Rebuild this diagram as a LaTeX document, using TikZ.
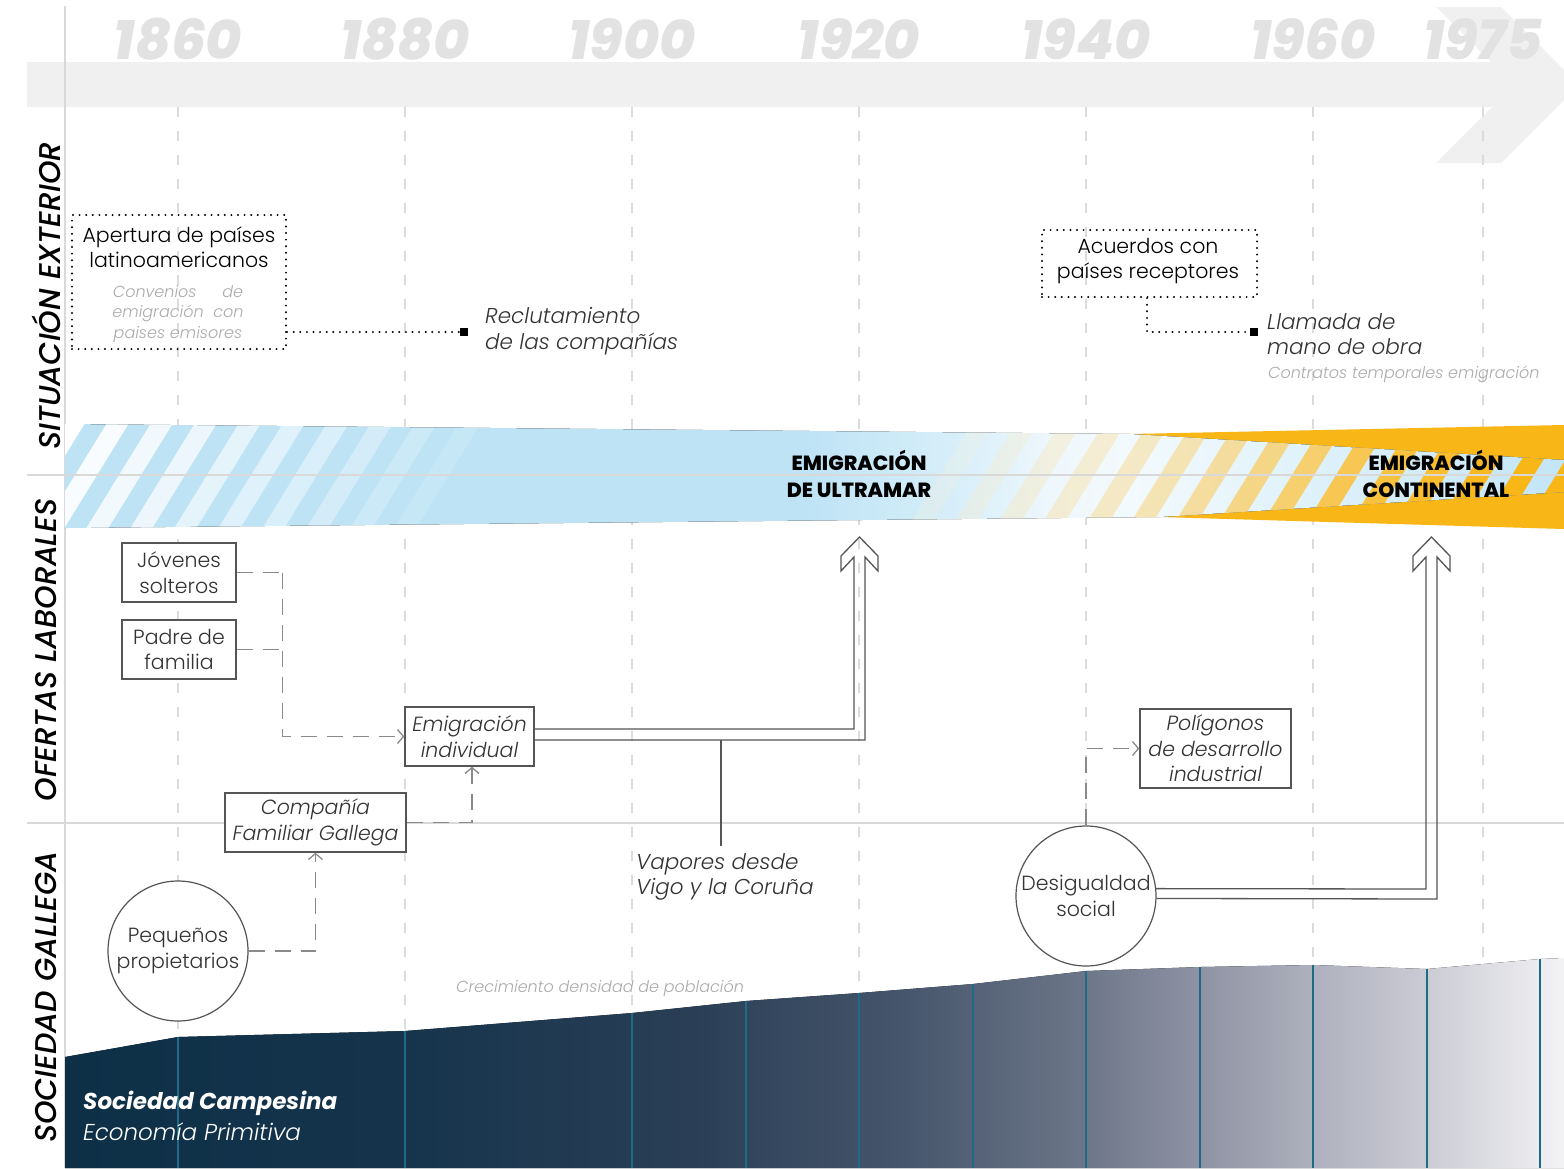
\documentclass[tikz,border=0pt]{standalone}
\usepackage{fontspec}
\setmainfont{Poppins}[UprightFont=* Light, ItalicFont=* Light Italic, BoldFont=* Bold, BoldItalicFont=* Bold Italic]
\newfontfamily\medfont{Poppins}[UprightFont=* Medium, ItalicFont=* Medium Italic]
\newfontfamily\heavyfont{Poppins}[UprightFont=* ExtraBold, ItalicFont=* ExtraBold Italic]
\usetikzlibrary{arrows.meta,calc,shapes.geometric}
\definecolor{tlgrey}{HTML}{F0F0F0}
\definecolor{yearc}{HTML}{E2E2E2}
\definecolor{gridc}{HTML}{DCDCDC}
\definecolor{rowc}{HTML}{D9D9D9}
\definecolor{bandblue}{HTML}{BDE3F5}
\definecolor{bandb2}{HTML}{D6EEF9}
\definecolor{bandb3}{HTML}{EEF7FC}
\definecolor{bandb4}{HTML}{F3FAFD}
\definecolor{innerr}{HTML}{C2E5F6}
\definecolor{orng}{HTML}{F9B617}
\definecolor{ypale}{HTML}{F8F0DA}
\definecolor{pop1}{HTML}{0D3047}
\definecolor{pop2}{HTML}{15344C}
\definecolor{pop3}{HTML}{2A3F56}
\definecolor{pop4}{HTML}{46566C}
\definecolor{pop5}{HTML}{6D7689}
\definecolor{pop6}{HTML}{8F94A4}
\definecolor{pop7}{HTML}{AEB0BD}
\definecolor{pop8}{HTML}{CACBD4}
\definecolor{pop9}{HTML}{F3F3F5}
\definecolor{tealc}{HTML}{1D6B85}
\definecolor{boxc}{HTML}{555555}
\definecolor{txtc}{HTML}{333333}
\definecolor{dashcol}{HTML}{8A8A8A}
\definecolor{lgtxt}{HTML}{ABABAB}
\pgfdeclarehorizontalshading{bluebandsh}{100bp}{color(0bp)=(bandblue); color(25bp)=(bandblue); color(49.5bp)=(bandblue); color(54.5bp)=(bandb2); color(58bp)=(bandb3); color(60.5bp)=(bandb4); color(75bp)=(innerr); color(100bp)=(innerr)}
\pgfdeclarehorizontalshading{popsh}{100bp}{color(0bp)=(pop1); color(25bp)=(pop1); color(36bp)=(pop2); color(46bp)=(pop3); color(53bp)=(pop4); color(59bp)=(pop5); color(63bp)=(pop6); color(66.6bp)=(pop7); color(70.4bp)=(pop8); color(75bp)=(pop9); color(100bp)=(pop9)}
\begin{document}
\begin{tikzpicture}[x=1pt,y=-1pt,
  yearlbl/.style={text=yearc, font=\fontsize{55}{55}\heavyfont\itshape, inner sep=0},
  gridline/.style={draw=gridc, line width=1.5, dash pattern=on 10pt off 14pt},
  rowline/.style={draw=rowc, line width=1.5},
  rowlbl/.style={rotate=90, font=\fontsize{30}{30}\medfont\itshape, text=black, inner sep=0},
  box/.style={draw=boxc, line width=1.3, fill=white, text=txtc, align=center, inner sep=0, font=\fontsize{20.5}{25.5}\selectfont},
  ibox/.style={box, font=\fontsize{20.5}{25.5}\selectfont\itshape},
  circ/.style={circle, draw=boxc, line width=1.2, fill=white, minimum size=140, inner sep=0, align=center, text=txtc, font=\fontsize{20.5}{25.5}\selectfont},
  dotbox/.style={draw=black, line width=2.2, dash pattern=on 0pt off 6.6pt, line cap=round},
  dotc/.style={draw=black, line width=2.2, dash pattern=on 0pt off 6.6pt, line cap=round},
  sq/.style={fill=black, minimum size=8, inner sep=0},
  dashc/.style={draw=dashcol, line width=1.3, dash pattern=on 16pt off 10pt},
  barb/.style={-{Straight Barb[length=6,width=14,line width=1.3]}},
  dbl/.style={draw=boxc, line width=1.3, line join=miter},
  itxt/.style={font=\fontsize{21.5}{25.5}\selectfont\itshape, text=txtc, align=left, inner sep=0},
  smalltxt/.style={font=\fontsize{16}{20.5}\selectfont\itshape, text=lgtxt, inner sep=0},
  bandlbl/.style={font=\fontsize{20.5}{26.5}\heavyfont, text=black, align=center, inner sep=0}
]
\useasboundingbox (0,0) rectangle (1564,1168);
\clip (0,0) rectangle (1564,1168);
\fill[white] (0,0) rectangle (1564,1168);

% timeline arrow
\fill[tlgrey] (27,62) rectangle (1514,107);
\fill[tlgrey] (1436,7) -- (1501,7) -- (1579,85) -- (1501,163) -- (1436,163) -- (1514,85) -- cycle;

% years
\foreach \x/\yr in {178/1860,405/1880,632/1900,859/1920,1086/1940,1313/1960,1483/1975}
  \node[yearlbl] (y\yr) at (\x,39) {\yr};

% left vertical line and grid
\draw[rowline] (65,6) -- (65,1168);
\foreach \x in {178,405,632,859,1086,1313,1483}
  \draw[gridline] (\x,107) -- (\x,1168);

% ===== migration band =====
\fill[orng] (1130,434) -- (1564,425) -- (1564,529) -- (1160,517) -- cycle;
\fill[shading=bluebandsh] (65,424) -- (1130,434) -- (1564,460) -- (1564,492) -- (1160,517) -- (65,528) -- cycle;
\begin{scope}
  \clip (65,424) -- (1130,434) -- (1564,460) -- (1564,492) -- (1160,517) -- (65,528) -- cycle;
  \foreach \k in {0,...,9}{
    \pgfmathsetmacro{\xo}{-9+44*\k}
    \pgfmathsetmacro{\op}{1-0.095*\k}
    \fill[white, opacity=\op] (\xo,540) -- (\xo+22,540) -- (\xo+99,415) -- (\xo+77,415) -- cycle;
  }
  \foreach \k in {0,...,15}{
    \pgfmathsetmacro{\xo}{900+44*\k}
    \pgfmathtruncatemacro{\pc}{min(100,8*\k)}
    \pgfmathsetmacro{\op}{min(1,0.25+0.08*\k)}
    \fill[orng!\pc!ypale, opacity=\op] (\xo,540) -- (\xo+22,540) -- (\xo+99,415) -- (\xo+77,415) -- cycle;
  }
\end{scope}
\node[bandlbl] (ultramar) at (859,474) {EMIGRACIÓN\\DE ULTRAMAR};
\node[bandlbl] (continental) at (1436,474) {EMIGRACIÓN\\CONTINENTAL};

% row separators
\draw[rowline] (27,475) -- (1564,475);
\draw[rowline] (27,823) -- (1564,823);

% ===== population area =====
\fill[shading=popsh] (65,1057) -- (178,1037) -- (405,1031) -- (632,1013) -- (746,1001) -- (859,993) -- (973,984) -- (1086,971) -- (1200,967) -- (1313,965) -- (1427,969) -- (1540,959) -- (1564,958) -- (1564,1168) -- (65,1168) -- cycle;
\foreach \x/\y in {178/1037,405/1031,632/1013,746/1001,859/993,973/984,1086/971,1200/967,1313/965,1427/969,1540/959}
  \draw[tealc, line width=2] (\x,\y) -- (\x,1168);
\node[smalltxt, anchor=west] (crec) at (456,988) {Crecimiento densidad de población};
\node[anchor=west, inner sep=0, text=white, font=\fontsize{23}{29}\selectfont\bfseries\itshape] (soc) at (83,1103) {Sociedad Campesina};
\node[anchor=west, inner sep=0, text=white, font=\fontsize{23}{29}\selectfont\itshape] (eco) at (83,1132) {Economía Primitiva};

% row labels
\node[rowlbl] (r1) at (46,296) {SITUACIÓN EXTERIOR};
\node[rowlbl] (r2) at (46,650) {OFERTAS LABORALES};
\node[rowlbl] (r3) at (46,997) {SOCIEDAD GALLEGA};

% ===== situacion exterior =====
\node[dotbox, minimum width=214, minimum height=134, inner sep=0] (apert) at (179,282) {};
\node[inner sep=0, align=center, text=black, font=\fontsize{20.5}{25.5}\selectfont] (apertt) at (179,247) {Apertura de países\\latinoamericanos};
\node[smalltxt, align=center] (conv) at (178,314) {Convenios\hspace{1.6em}de\\emigración\hspace{0.6em}con\\paises emisores};
\node[sq] (sq1) at (464,332) {};
\draw[dotc] (apert.east |- sq1) -- (sq1.west);
\node[itxt, anchor=west] (recl) at (485,331) {Reclutamiento\\de las compañías};

\node[dotbox, minimum width=215, minimum height=67, inner sep=0] (acu) at (1149.5,263.5) {};
\node[inner sep=0, align=center, text=black, font=\fontsize{20.5}{25.5}\selectfont] (acut) at (1148,261) {Acuerdos con\\países receptores};
\node[sq] (sq2) at (1254,332) {};
\draw[dotc] (acu.south -| 1147,0) |- (sq2.west);
\node[itxt, anchor=west] (llam) at (1267,334) {Llamada de\\mano de obra};
\node[smalltxt, anchor=west] (contr) at (1268,374) {Contratos temporales emigración};

% ===== ofertas laborales =====
\node[box, minimum width=114, minimum height=59] (jov) at (179,572.5) {Jóvenes\\solteros};
\node[box, minimum width=114, minimum height=59] (padre) at (179,649.5) {Padre de\\familia};
\node[ibox, minimum width=129, minimum height=59] (emig) at (469.5,736.5) {Emigración\\individual};
\node[ibox, minimum width=181, minimum height=59] (comp) at (315.5,822.5) {Compañía\\Familiar Gallega};
\node[ibox, minimum width=151, minimum height=79] (polig) at (1215.5,748.5) {Polígonos\\de desarrollo\\industrial};
\node[circ] (peq) at (178,951) {Pequeños\\propietarios};
\node[circ] (desig) at (1086,896) {Desigualdad\\social};

\draw[dashc] (jov.east) -- ++(46,0) coordinate (jk);
\draw[dashc] (padre.east) -- ++(46,0);
\draw[dashc, barb] (jk) |- (emig.west);
\draw[dashc, barb] (comp.east) -| ([xshift=2.5pt]emig.south);
\draw[dashc, barb] (peq.east) -| (comp.south);
\draw[dashc, barb] (desig.north) |- (polig.west);

% double arrows
\coordinate (tip1) at (859.5,537);
\draw[dbl] ([yshift=7.5pt]emig.east) -- ($(tip1)+(-5.5,192)$) -- ($(tip1)+(-5.5,20)$) -- ($(tip1)+(-18.5,34)$) -- ($(tip1)+(-18.5,19)$) -- (tip1) -- ($(tip1)+(18.5,19)$) -- ($(tip1)+(18.5,34)$) -- ($(tip1)+(5.5,20)$) -- ($(tip1)+(5.5,203)$) -- ([yshift=-3.5pt]emig.east);
\coordinate (tip2) at (1431.5,537);
\draw[dbl] (desig.6) -- ($(tip2)+(-5.5,352)$) -- ($(tip2)+(-5.5,20)$) -- ($(tip2)+(-18.5,34)$) -- ($(tip2)+(-18.5,19)$) -- (tip2) -- ($(tip2)+(18.5,19)$) -- ($(tip2)+(18.5,34)$) -- ($(tip2)+(5.5,20)$) -- ($(tip2)+(5.5,362)$) -- (desig.-2.5);

% vapores
\coordinate (vtop) at (721,740);
\node[itxt, anchor=north west] (vap) at (636,853) {Vapores desde\\Vigo y la Coruña};
\draw[boxc, line width=1.3] (vtop) -- (vtop |- 0,846);
\end{tikzpicture}
\end{document}
